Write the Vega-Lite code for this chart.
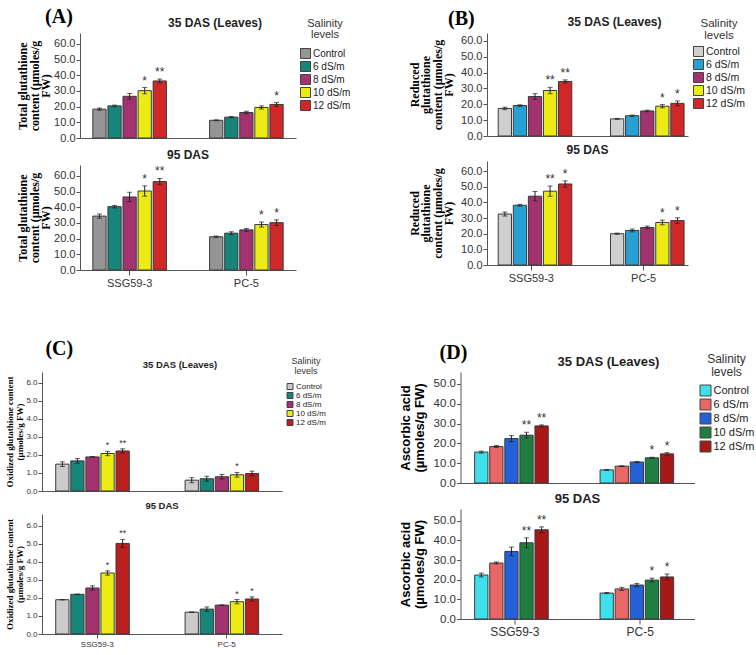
{
"$schema": "https://vega.github.io/schema/vega-lite/v6.json",
"padding": {"left": 4, "top": 7, "right": 0, "bottom": 2},
"config": {
  "view": {"stroke": null},
  "font": "Liberation Sans",
  "axis": {"grid": false, "domainColor": "#555", "tickColor": "#555", "labelColor": "#333", "tickSize": 4, "labelPadding": 1, "labelFont": "Liberation Sans", "labelOverlap": false, "labelFlush": false},
  "title": {"font": "Liberation Sans", "fontWeight": "bold", "color": "#222"},
  "legend": {"symbolType": "square", "symbolStrokeColor": "#444", "symbolStrokeWidth": 1, "titleFont": "Liberation Sans", "titleFontWeight": "normal", "titleColor": "#333", "titleAnchor": "middle", "labelFont": "Liberation Sans", "labelColor": "#222", "orient": "none"}
},
"datasets": {
"A35": [
{"g":"SSG59-3","s":"Control","v":18.4,"lo":17.7,"hi":19.1,"sig":""},
{"g":"SSG59-3","s":"6 dS/m","v":20.5,"lo":20.0,"hi":21.0,"sig":""},
{"g":"SSG59-3","s":"8 dS/m","v":26.6,"lo":24.8,"hi":28.4,"sig":""},
{"g":"SSG59-3","s":"10 dS/m","v":30.2,"lo":28.2,"hi":32.2,"sig":"*"},
{"g":"SSG59-3","s":"12 dS/m","v":36.4,"lo":35.2,"hi":37.6,"sig":"**"},
{"g":"PC-5","s":"Control","v":11.3,"lo":11.0,"hi":11.6,"sig":""},
{"g":"PC-5","s":"6 dS/m","v":13.3,"lo":12.9,"hi":13.7,"sig":""},
{"g":"PC-5","s":"8 dS/m","v":16.3,"lo":15.5,"hi":17.1,"sig":""},
{"g":"PC-5","s":"10 dS/m","v":19.5,"lo":18.5,"hi":20.5,"sig":""},
{"g":"PC-5","s":"12 dS/m","v":21.4,"lo":20.2,"hi":22.6,"sig":"*"}
],
"A95": [
{"g":"SSG59-3","s":"Control","v":34.4,"lo":33.1,"hi":35.7,"sig":""},
{"g":"SSG59-3","s":"6 dS/m","v":40.4,"lo":39.6,"hi":41.2,"sig":""},
{"g":"SSG59-3","s":"8 dS/m","v":46.6,"lo":43.6,"hi":49.6,"sig":""},
{"g":"SSG59-3","s":"10 dS/m","v":50.4,"lo":47.1,"hi":53.7,"sig":"*"},
{"g":"SSG59-3","s":"12 dS/m","v":56.4,"lo":54.4,"hi":58.4,"sig":"**"},
{"g":"PC-5","s":"Control","v":21.2,"lo":20.7,"hi":21.7,"sig":""},
{"g":"PC-5","s":"6 dS/m","v":23.5,"lo":22.6,"hi":24.4,"sig":""},
{"g":"PC-5","s":"8 dS/m","v":25.6,"lo":24.7,"hi":26.5,"sig":""},
{"g":"PC-5","s":"10 dS/m","v":29.0,"lo":27.4,"hi":30.6,"sig":"*"},
{"g":"PC-5","s":"12 dS/m","v":30.2,"lo":28.4,"hi":32.0,"sig":"*"}
],
"B35": [
{"g":"SSG59-3","s":"Control","v":17.4,"lo":16.6,"hi":18.2,"sig":""},
{"g":"SSG59-3","s":"6 dS/m","v":19.2,"lo":18.7,"hi":19.7,"sig":""},
{"g":"SSG59-3","s":"8 dS/m","v":24.9,"lo":23.1,"hi":26.7,"sig":""},
{"g":"SSG59-3","s":"10 dS/m","v":28.7,"lo":26.7,"hi":30.7,"sig":"**"},
{"g":"SSG59-3","s":"12 dS/m","v":34.4,"lo":33.4,"hi":35.4,"sig":"**"},
{"g":"PC-5","s":"Control","v":10.8,"lo":10.5,"hi":11.1,"sig":""},
{"g":"PC-5","s":"6 dS/m","v":12.8,"lo":12.4,"hi":13.2,"sig":""},
{"g":"PC-5","s":"8 dS/m","v":15.8,"lo":15.3,"hi":16.3,"sig":""},
{"g":"PC-5","s":"10 dS/m","v":18.8,"lo":17.8,"hi":19.8,"sig":"*"},
{"g":"PC-5","s":"12 dS/m","v":20.6,"lo":19.1,"hi":22.1,"sig":"*"}
],
"B95": [
{"g":"SSG59-3","s":"Control","v":32.6,"lo":31.3,"hi":33.9,"sig":""},
{"g":"SSG59-3","s":"6 dS/m","v":38.2,"lo":37.6,"hi":38.8,"sig":""},
{"g":"SSG59-3","s":"8 dS/m","v":44.0,"lo":41.0,"hi":47.0,"sig":""},
{"g":"SSG59-3","s":"10 dS/m","v":47.2,"lo":43.9,"hi":50.5,"sig":"**"},
{"g":"SSG59-3","s":"12 dS/m","v":51.8,"lo":49.8,"hi":53.8,"sig":"*"},
{"g":"PC-5","s":"Control","v":20.0,"lo":19.6,"hi":20.4,"sig":""},
{"g":"PC-5","s":"6 dS/m","v":22.1,"lo":21.2,"hi":23.0,"sig":""},
{"g":"PC-5","s":"8 dS/m","v":24.0,"lo":23.1,"hi":24.9,"sig":""},
{"g":"PC-5","s":"10 dS/m","v":27.2,"lo":25.7,"hi":28.7,"sig":"*"},
{"g":"PC-5","s":"12 dS/m","v":28.4,"lo":26.6,"hi":30.2,"sig":"*"}
],
"C35": [
{"g":"SSG59-3","s":"Control","v":1.49,"lo":1.36,"hi":1.62,"sig":""},
{"g":"SSG59-3","s":"6 dS/m","v":1.67,"lo":1.54,"hi":1.80,"sig":""},
{"g":"SSG59-3","s":"8 dS/m","v":1.89,"lo":1.87,"hi":1.91,"sig":""},
{"g":"SSG59-3","s":"10 dS/m","v":2.08,"lo":1.96,"hi":2.20,"sig":"*"},
{"g":"SSG59-3","s":"12 dS/m","v":2.22,"lo":2.10,"hi":2.34,"sig":"**"},
{"g":"PC-5","s":"Control","v":0.60,"lo":0.46,"hi":0.74,"sig":""},
{"g":"PC-5","s":"6 dS/m","v":0.68,"lo":0.54,"hi":0.82,"sig":""},
{"g":"PC-5","s":"8 dS/m","v":0.79,"lo":0.66,"hi":0.92,"sig":""},
{"g":"PC-5","s":"10 dS/m","v":0.90,"lo":0.77,"hi":1.03,"sig":"*"},
{"g":"PC-5","s":"12 dS/m","v":0.97,"lo":0.84,"hi":1.10,"sig":""}
],
"C95": [
{"g":"SSG59-3","s":"Control","v":1.90,"lo":1.89,"hi":1.91,"sig":""},
{"g":"SSG59-3","s":"6 dS/m","v":2.20,"lo":2.19,"hi":2.21,"sig":""},
{"g":"SSG59-3","s":"8 dS/m","v":2.55,"lo":2.43,"hi":2.67,"sig":""},
{"g":"SSG59-3","s":"10 dS/m","v":3.38,"lo":3.26,"hi":3.50,"sig":"*"},
{"g":"SSG59-3","s":"12 dS/m","v":5.02,"lo":4.80,"hi":5.24,"sig":"**"},
{"g":"PC-5","s":"Control","v":1.21,"lo":1.20,"hi":1.22,"sig":""},
{"g":"PC-5","s":"6 dS/m","v":1.38,"lo":1.26,"hi":1.50,"sig":""},
{"g":"PC-5","s":"8 dS/m","v":1.60,"lo":1.59,"hi":1.61,"sig":""},
{"g":"PC-5","s":"10 dS/m","v":1.79,"lo":1.67,"hi":1.91,"sig":"*"},
{"g":"PC-5","s":"12 dS/m","v":1.94,"lo":1.82,"hi":2.06,"sig":"*"}
],
"D35": [
{"g":"SSG59-3","s":"Control","v":15.6,"lo":15.1,"hi":16.1,"sig":""},
{"g":"SSG59-3","s":"6 dS/m","v":18.4,"lo":17.9,"hi":18.9,"sig":""},
{"g":"SSG59-3","s":"8 dS/m","v":22.4,"lo":20.9,"hi":23.9,"sig":""},
{"g":"SSG59-3","s":"10 dS/m","v":24.1,"lo":22.6,"hi":25.6,"sig":"**"},
{"g":"SSG59-3","s":"12 dS/m","v":28.8,"lo":28.3,"hi":29.3,"sig":"**"},
{"g":"PC-5","s":"Control","v":6.6,"lo":6.4,"hi":6.8,"sig":""},
{"g":"PC-5","s":"6 dS/m","v":8.5,"lo":8.3,"hi":8.7,"sig":""},
{"g":"PC-5","s":"8 dS/m","v":10.6,"lo":10.3,"hi":10.9,"sig":""},
{"g":"PC-5","s":"10 dS/m","v":12.7,"lo":12.4,"hi":13.0,"sig":"*"},
{"g":"PC-5","s":"12 dS/m","v":14.7,"lo":14.1,"hi":15.3,"sig":"*"}
],
"D95": [
{"g":"SSG59-3","s":"Control","v":22.4,"lo":21.4,"hi":23.4,"sig":""},
{"g":"SSG59-3","s":"6 dS/m","v":28.5,"lo":28.0,"hi":29.0,"sig":""},
{"g":"SSG59-3","s":"8 dS/m","v":34.4,"lo":32.2,"hi":36.6,"sig":""},
{"g":"SSG59-3","s":"10 dS/m","v":38.8,"lo":36.3,"hi":41.3,"sig":"**"},
{"g":"SSG59-3","s":"12 dS/m","v":45.4,"lo":43.9,"hi":46.9,"sig":"**"},
{"g":"PC-5","s":"Control","v":13.2,"lo":12.9,"hi":13.5,"sig":""},
{"g":"PC-5","s":"6 dS/m","v":15.3,"lo":14.5,"hi":16.1,"sig":""},
{"g":"PC-5","s":"8 dS/m","v":17.3,"lo":16.5,"hi":18.1,"sig":""},
{"g":"PC-5","s":"10 dS/m","v":19.8,"lo":18.8,"hi":20.8,"sig":"*"},
{"g":"PC-5","s":"12 dS/m","v":21.4,"lo":19.9,"hi":22.9,"sig":"*"}
]
},
"resolve": {"scale": {"color": "independent"}},
"columns": 1,
"spacing": 51,
"concat": [
{
"spacing": 0,
"resolve": {"scale": {"color": "independent"}},
"concat": [
{"width": 1, "height": 1, "data": {"values": []}, "mark": "point", "encoding": {}},
{
"spacing": 57,
"resolve": {"scale": {"color": "independent"}},
"concat": [
{
"title": {"text": "(A)", "anchor": "start", "dx": 40, "offset": -10, "font": "Liberation Serif", "fontSize": 20, "fontWeight": "bold", "color": "#000"},
"spacing": 6,
"resolve": {"scale": {"color": "independent"}},
"vconcat": [
{
"width": 216, "height": 105,
"data": {"name": "A35"},
"title": {"text": "35 DAS (Leaves)", "dx": 27, "offset": -12, "fontSize": 12},
"encoding": {
"x": {"field": "g", "type": "nominal", "sort": ["SSG59-3","PC-5"], "scale": {"paddingInner": 0.37, "paddingOuter": 0.11}, "axis": {"labels": false, "ticks": false, "title": null}},
"xOffset": {"field": "s", "type": "nominal", "sort": ["Control","6 dS/m","8 dS/m","10 dS/m","12 dS/m"], "scale": {"paddingInner": 0.12}}
},
"layer": [
{"mark": {"type": "bar", "stroke": "#3a3a3a", "strokeWidth": 1},
"encoding": {
"y": {"field": "v", "type": "quantitative", "scale": {"domain": [0, 67], "nice": false}, "axis": {"values": [0,10,20,30,40,50,60], "labelOverlap": false, "format": ".1f", "title": ["", "Total glutathione", "content (µmoles/g", "FW)"], "titleFont": "Liberation Serif", "titleFontSize": 12, "titleFontWeight": "bold", "titleColor": "#000", "titleLineHeight": 11.5, "titlePadding": 1, "labelFontSize": 11}},
"color": {"field": "s", "type": "nominal", "sort": ["Control","6 dS/m","8 dS/m","10 dS/m","12 dS/m"], "scale": {"range": ["#959595","#17857a","#a3336f","#ecec14","#d02828"]},
"legend": {"title": ["Salinity", "levels"], "legendX": 220, "legendY": -15, "titleFontSize": 11, "titleLineHeight": 11, "titlePadding": 8, "labelFontSize": 10, "symbolSize": 100, "rowPadding": -5, "labelOffset": 2}}
}},
{"mark": {"type": "rule", "color": "#222"}, "encoding": {"y": {"field": "lo", "type": "quantitative", "axis": {"values": [0,10,20,30,40,50,60], "labelOverlap": false, "format": ".1f", "title": ["", "Total glutathione", "content (µmoles/g", "FW)"], "titleFont": "Liberation Serif", "titleFontSize": 12, "titleFontWeight": "bold", "titleColor": "#000", "titleLineHeight": 11.5, "titlePadding": 1, "labelFontSize": 11}}, "y2": {"field": "hi"}}},
{"mark": {"type": "tick", "color": "#222", "size": 5, "thickness": 1}, "encoding": {"y": {"field": "lo", "type": "quantitative", "axis": {"values": [0,10,20,30,40,50,60], "labelOverlap": false, "format": ".1f", "title": ["", "Total glutathione", "content (µmoles/g", "FW)"], "titleFont": "Liberation Serif", "titleFontSize": 12, "titleFontWeight": "bold", "titleColor": "#000", "titleLineHeight": 11.5, "titlePadding": 1, "labelFontSize": 11}}}},
{"mark": {"type": "tick", "color": "#222", "size": 5, "thickness": 1}, "encoding": {"y": {"field": "hi", "type": "quantitative", "axis": {"values": [0,10,20,30,40,50,60], "labelOverlap": false, "format": ".1f", "title": ["", "Total glutathione", "content (µmoles/g", "FW)"], "titleFont": "Liberation Serif", "titleFontSize": 12, "titleFontWeight": "bold", "titleColor": "#000", "titleLineHeight": 11.5, "titlePadding": 1, "labelFontSize": 11}}}},
{"mark": {"type": "text", "dy": -3, "baseline": "alphabetic", "fontSize": 12, "color": "#333"}, "encoding": {"y": {"field": "hi", "type": "quantitative", "axis": {"values": [0,10,20,30,40,50,60], "labelOverlap": false, "format": ".1f", "title": ["", "Total glutathione", "content (µmoles/g", "FW)"], "titleFont": "Liberation Serif", "titleFontSize": 12, "titleFontWeight": "bold", "titleColor": "#000", "titleLineHeight": 11.5, "titlePadding": 1, "labelFontSize": 11}}, "text": {"field": "sig"}}}
]
},
{
"width": 216, "height": 105,
"data": {"name": "A95"},
"title": {"text": "95 DAS", "offset": 3, "fontSize": 12},
"encoding": {
"x": {"field": "g", "type": "nominal", "sort": ["SSG59-3","PC-5"], "scale": {"paddingInner": 0.37, "paddingOuter": 0.11}, "axis": {"labelAngle": 0, "labelFontSize": 11, "labelPadding": 2, "tickSize": 5, "title": null}},
"xOffset": {"field": "s", "type": "nominal", "sort": ["Control","6 dS/m","8 dS/m","10 dS/m","12 dS/m"], "scale": {"paddingInner": 0.12}}
},
"layer": [
{"mark": {"type": "bar", "stroke": "#3a3a3a", "strokeWidth": 1},
"encoding": {
"y": {"field": "v", "type": "quantitative", "scale": {"domain": [0, 67], "nice": false}, "axis": {"values": [0,10,20,30,40,50,60], "labelOverlap": false, "format": ".1f", "title": ["", "Total glutathione", "content (µmoles/g", "FW)"], "titleFont": "Liberation Serif", "titleFontSize": 12, "titleFontWeight": "bold", "titleColor": "#000", "titleLineHeight": 11.5, "titlePadding": 1, "labelFontSize": 11}},
"color": {"field": "s", "type": "nominal", "sort": ["Control","6 dS/m","8 dS/m","10 dS/m","12 dS/m"], "scale": {"range": ["#959595","#17857a","#a3336f","#ecec14","#d02828"]}, "legend": null}
}},
{"mark": {"type": "rule", "color": "#222"}, "encoding": {"y": {"field": "lo", "type": "quantitative", "axis": {"values": [0,10,20,30,40,50,60], "labelOverlap": false, "format": ".1f", "title": ["", "Total glutathione", "content (µmoles/g", "FW)"], "titleFont": "Liberation Serif", "titleFontSize": 12, "titleFontWeight": "bold", "titleColor": "#000", "titleLineHeight": 11.5, "titlePadding": 1, "labelFontSize": 11}}, "y2": {"field": "hi"}}},
{"mark": {"type": "tick", "color": "#222", "size": 5, "thickness": 1}, "encoding": {"y": {"field": "lo", "type": "quantitative", "axis": {"values": [0,10,20,30,40,50,60], "labelOverlap": false, "format": ".1f", "title": ["", "Total glutathione", "content (µmoles/g", "FW)"], "titleFont": "Liberation Serif", "titleFontSize": 12, "titleFontWeight": "bold", "titleColor": "#000", "titleLineHeight": 11.5, "titlePadding": 1, "labelFontSize": 11}}}},
{"mark": {"type": "tick", "color": "#222", "size": 5, "thickness": 1}, "encoding": {"y": {"field": "hi", "type": "quantitative", "axis": {"values": [0,10,20,30,40,50,60], "labelOverlap": false, "format": ".1f", "title": ["", "Total glutathione", "content (µmoles/g", "FW)"], "titleFont": "Liberation Serif", "titleFontSize": 12, "titleFontWeight": "bold", "titleColor": "#000", "titleLineHeight": 11.5, "titlePadding": 1, "labelFontSize": 11}}}},
{"mark": {"type": "text", "dy": -3, "baseline": "alphabetic", "fontSize": 12, "color": "#333"}, "encoding": {"y": {"field": "hi", "type": "quantitative", "axis": {"values": [0,10,20,30,40,50,60], "labelOverlap": false, "format": ".1f", "title": ["", "Total glutathione", "content (µmoles/g", "FW)"], "titleFont": "Liberation Serif", "titleFontSize": 12, "titleFontWeight": "bold", "titleColor": "#000", "titleLineHeight": 11.5, "titlePadding": 1, "labelFontSize": 11}}, "text": {"field": "sig"}}}
]
}
]
},
{
"title": {"text": "(B)", "anchor": "start", "dx": 40, "offset": -13, "font": "Liberation Serif", "fontSize": 20, "fontWeight": "bold", "color": "#000"},
"spacing": 3,
"resolve": {"scale": {"color": "independent"}},
"vconcat": [
{
"width": 201, "height": 103,
"data": {"name": "B35"},
"title": {"text": "35 DAS (Leaves)", "dx": 27, "offset": -11, "fontSize": 12},
"encoding": {
"x": {"field": "g", "type": "nominal", "sort": ["SSG59-3","PC-5"], "scale": {"paddingInner": 0.41, "paddingOuter": 0.1}, "axis": {"labels": false, "ticks": false, "title": null}},
"xOffset": {"field": "s", "type": "nominal", "sort": ["Control","6 dS/m","8 dS/m","10 dS/m","12 dS/m"], "scale": {"paddingInner": 0.1}}
},
"layer": [
{"mark": {"type": "bar", "stroke": "#3a3a3a", "strokeWidth": 1},
"encoding": {
"y": {"field": "v", "type": "quantitative", "scale": {"domain": [0, 65], "nice": false}, "axis": {"values": [0,10,20,30,40,50,60], "labelOverlap": false, "format": ".1f", "title": ["Reduced", "glutathione", "content (µmoles/g", "FW)"], "titleFont": "Liberation Serif", "titleFontSize": 12, "titleFontWeight": "bold", "titleColor": "#000", "titleLineHeight": 11.5, "titlePadding": 5, "labelFontSize": 11}},
"color": {"field": "s", "type": "nominal", "sort": ["Control","6 dS/m","8 dS/m","10 dS/m","12 dS/m"], "scale": {"range": ["#cfcfcf","#27a0d2","#a3336f","#ecec14","#d02828"]},
"legend": {"title": ["Salinity", "levels"], "legendX": 206, "legendY": -15, "titleFontSize": 11.5, "titleLineHeight": 11.5, "titlePadding": 5, "labelFontSize": 10.5, "symbolSize": 100, "rowPadding": -2.7, "labelOffset": 2}}
}},
{"mark": {"type": "rule", "color": "#222"}, "encoding": {"y": {"field": "lo", "type": "quantitative", "axis": {"values": [0,10,20,30,40,50,60], "labelOverlap": false, "format": ".1f", "title": ["Reduced", "glutathione", "content (µmoles/g", "FW)"], "titleFont": "Liberation Serif", "titleFontSize": 12, "titleFontWeight": "bold", "titleColor": "#000", "titleLineHeight": 11.5, "titlePadding": 5, "labelFontSize": 11}}, "y2": {"field": "hi"}}},
{"mark": {"type": "tick", "color": "#222", "size": 5, "thickness": 1}, "encoding": {"y": {"field": "lo", "type": "quantitative", "axis": {"values": [0,10,20,30,40,50,60], "labelOverlap": false, "format": ".1f", "title": ["Reduced", "glutathione", "content (µmoles/g", "FW)"], "titleFont": "Liberation Serif", "titleFontSize": 12, "titleFontWeight": "bold", "titleColor": "#000", "titleLineHeight": 11.5, "titlePadding": 5, "labelFontSize": 11}}}},
{"mark": {"type": "tick", "color": "#222", "size": 5, "thickness": 1}, "encoding": {"y": {"field": "hi", "type": "quantitative", "axis": {"values": [0,10,20,30,40,50,60], "labelOverlap": false, "format": ".1f", "title": ["Reduced", "glutathione", "content (µmoles/g", "FW)"], "titleFont": "Liberation Serif", "titleFontSize": 12, "titleFontWeight": "bold", "titleColor": "#000", "titleLineHeight": 11.5, "titlePadding": 5, "labelFontSize": 11}}}},
{"mark": {"type": "text", "dy": -3, "baseline": "alphabetic", "fontSize": 12, "color": "#333"}, "encoding": {"y": {"field": "hi", "type": "quantitative", "axis": {"values": [0,10,20,30,40,50,60], "labelOverlap": false, "format": ".1f", "title": ["Reduced", "glutathione", "content (µmoles/g", "FW)"], "titleFont": "Liberation Serif", "titleFontSize": 12, "titleFontWeight": "bold", "titleColor": "#000", "titleLineHeight": 11.5, "titlePadding": 5, "labelFontSize": 11}}, "text": {"field": "sig"}}}
]
},
{
"width": 201, "height": 104,
"data": {"name": "B95"},
"title": {"text": "95 DAS", "offset": 4, "fontSize": 12},
"encoding": {
"x": {"field": "g", "type": "nominal", "sort": ["SSG59-3","PC-5"], "scale": {"paddingInner": 0.41, "paddingOuter": 0.1}, "axis": {"labelAngle": 0, "labelFontSize": 11, "labelPadding": 2, "tickSize": 5, "title": null}},
"xOffset": {"field": "s", "type": "nominal", "sort": ["Control","6 dS/m","8 dS/m","10 dS/m","12 dS/m"], "scale": {"paddingInner": 0.1}}
},
"layer": [
{"mark": {"type": "bar", "stroke": "#3a3a3a", "strokeWidth": 1},
"encoding": {
"y": {"field": "v", "type": "quantitative", "scale": {"domain": [0, 66.5], "nice": false}, "axis": {"values": [0,10,20,30,40,50,60], "labelOverlap": false, "format": ".1f", "title": ["Reduced", "glutathione", "content (µmoles/g", "FW)"], "titleFont": "Liberation Serif", "titleFontSize": 12, "titleFontWeight": "bold", "titleColor": "#000", "titleLineHeight": 11.5, "titlePadding": 5, "labelFontSize": 11}},
"color": {"field": "s", "type": "nominal", "sort": ["Control","6 dS/m","8 dS/m","10 dS/m","12 dS/m"], "scale": {"range": ["#cfcfcf","#27a0d2","#a3336f","#ecec14","#d02828"]}, "legend": null}
}},
{"mark": {"type": "rule", "color": "#222"}, "encoding": {"y": {"field": "lo", "type": "quantitative", "axis": {"values": [0,10,20,30,40,50,60], "labelOverlap": false, "format": ".1f", "title": ["Reduced", "glutathione", "content (µmoles/g", "FW)"], "titleFont": "Liberation Serif", "titleFontSize": 12, "titleFontWeight": "bold", "titleColor": "#000", "titleLineHeight": 11.5, "titlePadding": 5, "labelFontSize": 11}}, "y2": {"field": "hi"}}},
{"mark": {"type": "tick", "color": "#222", "size": 5, "thickness": 1}, "encoding": {"y": {"field": "lo", "type": "quantitative", "axis": {"values": [0,10,20,30,40,50,60], "labelOverlap": false, "format": ".1f", "title": ["Reduced", "glutathione", "content (µmoles/g", "FW)"], "titleFont": "Liberation Serif", "titleFontSize": 12, "titleFontWeight": "bold", "titleColor": "#000", "titleLineHeight": 11.5, "titlePadding": 5, "labelFontSize": 11}}}},
{"mark": {"type": "tick", "color": "#222", "size": 5, "thickness": 1}, "encoding": {"y": {"field": "hi", "type": "quantitative", "axis": {"values": [0,10,20,30,40,50,60], "labelOverlap": false, "format": ".1f", "title": ["Reduced", "glutathione", "content (µmoles/g", "FW)"], "titleFont": "Liberation Serif", "titleFontSize": 12, "titleFontWeight": "bold", "titleColor": "#000", "titleLineHeight": 11.5, "titlePadding": 5, "labelFontSize": 11}}}},
{"mark": {"type": "text", "dy": -3, "baseline": "alphabetic", "fontSize": 12, "color": "#333"}, "encoding": {"y": {"field": "hi", "type": "quantitative", "axis": {"values": [0,10,20,30,40,50,60], "labelOverlap": false, "format": ".1f", "title": ["Reduced", "glutathione", "content (µmoles/g", "FW)"], "titleFont": "Liberation Serif", "titleFontSize": 12, "titleFontWeight": "bold", "titleColor": "#000", "titleLineHeight": 11.5, "titlePadding": 5, "labelFontSize": 11}}, "text": {"field": "sig"}}}
]
}
]
}
]
}
]
},
{
"spacing": 0,
"resolve": {"scale": {"color": "independent"}},
"concat": [
{"width": 1, "height": 1, "data": {"values": []}, "mark": "point", "encoding": {}},
{
"spacing": 73.5,
"resolve": {"scale": {"color": "independent"}},
"concat": [
{
"title": {"text": "(C)", "anchor": "start", "dx": 40, "offset": -2, "font": "Liberation Serif", "fontSize": 20, "fontWeight": "bold", "color": "#000"},
"spacing": 5,
"resolve": {"scale": {"color": "independent"}},
"vconcat": [
{
"width": 240, "height": 119,
"data": {"name": "C35"},
"title": {"text": "35 DAS (Leaves)", "dx": 18, "offset": -12, "fontSize": 9.5},
"encoding": {
"x": {"field": "g", "type": "nominal", "sort": ["SSG59-3","PC-5"], "scale": {"paddingInner": 0.357, "paddingOuter": 0.106}, "axis": {"labels": false, "ticks": false, "title": null}},
"xOffset": {"field": "s", "type": "nominal", "sort": ["Control","6 dS/m","8 dS/m","10 dS/m","12 dS/m"], "scale": {"paddingInner": 0.1}}
},
"layer": [
{"mark": {"type": "bar", "stroke": "#3a3a3a", "strokeWidth": 1},
"encoding": {
"y": {"field": "v", "type": "quantitative", "scale": {"domain": [0, 6.6], "nice": false}, "axis": {"values": [0,1,2,3,4,5,6], "labelOverlap": false, "format": ".1f", "title": ["Oxidized glutathione content", "(µmoles/g FW)"], "titleFont": "Liberation Serif", "titleFontSize": 9, "titleFontWeight": "bold", "titleColor": "#000", "titleLineHeight": 10, "titlePadding": 1.5, "labelFontSize": 8}},
"color": {"field": "s", "type": "nominal", "sort": ["Control","6 dS/m","8 dS/m","10 dS/m","12 dS/m"], "scale": {"range": ["#cbcbcb","#17857a","#a3336f","#ecec14","#bb1e1e"]},
"legend": {"title": ["Salinity", "levels"], "legendX": 244, "legendY": -15, "titleFontSize": 9, "titleLineHeight": 9.5, "titlePadding": 7, "labelFontSize": 8, "symbolSize": 36, "rowPadding": -1.1, "labelOffset": 2}}
}},
{"mark": {"type": "rule", "color": "#222"}, "encoding": {"y": {"field": "lo", "type": "quantitative", "axis": {"values": [0,1,2,3,4,5,6], "labelOverlap": false, "format": ".1f", "title": ["Oxidized glutathione content", "(µmoles/g FW)"], "titleFont": "Liberation Serif", "titleFontSize": 9, "titleFontWeight": "bold", "titleColor": "#000", "titleLineHeight": 10, "titlePadding": 1.5, "labelFontSize": 8}}, "y2": {"field": "hi"}}},
{"mark": {"type": "tick", "color": "#222", "size": 5, "thickness": 1}, "encoding": {"y": {"field": "lo", "type": "quantitative", "axis": {"values": [0,1,2,3,4,5,6], "labelOverlap": false, "format": ".1f", "title": ["Oxidized glutathione content", "(µmoles/g FW)"], "titleFont": "Liberation Serif", "titleFontSize": 9, "titleFontWeight": "bold", "titleColor": "#000", "titleLineHeight": 10, "titlePadding": 1.5, "labelFontSize": 8}}}},
{"mark": {"type": "tick", "color": "#222", "size": 5, "thickness": 1}, "encoding": {"y": {"field": "hi", "type": "quantitative", "axis": {"values": [0,1,2,3,4,5,6], "labelOverlap": false, "format": ".1f", "title": ["Oxidized glutathione content", "(µmoles/g FW)"], "titleFont": "Liberation Serif", "titleFontSize": 9, "titleFontWeight": "bold", "titleColor": "#000", "titleLineHeight": 10, "titlePadding": 1.5, "labelFontSize": 8}}}},
{"mark": {"type": "text", "dy": -3, "baseline": "alphabetic", "fontSize": 9, "color": "#333"}, "encoding": {"y": {"field": "hi", "type": "quantitative", "axis": {"values": [0,1,2,3,4,5,6], "labelOverlap": false, "format": ".1f", "title": ["Oxidized glutathione content", "(µmoles/g FW)"], "titleFont": "Liberation Serif", "titleFontSize": 9, "titleFontWeight": "bold", "titleColor": "#000", "titleLineHeight": 10, "titlePadding": 1.5, "labelFontSize": 8}}, "text": {"field": "sig"}}}
]
},
{
"width": 240, "height": 120,
"data": {"name": "C95"},
"title": {"text": "95 DAS", "offset": 4, "fontSize": 9.5},
"encoding": {
"x": {"field": "g", "type": "nominal", "sort": ["SSG59-3","PC-5"], "scale": {"paddingInner": 0.357, "paddingOuter": 0.106}, "axis": {"labelAngle": 0, "labelFontSize": 8, "labelPadding": 2, "tickSize": 4, "title": null}},
"xOffset": {"field": "s", "type": "nominal", "sort": ["Control","6 dS/m","8 dS/m","10 dS/m","12 dS/m"], "scale": {"paddingInner": 0.1}}
},
"layer": [
{"mark": {"type": "bar", "stroke": "#3a3a3a", "strokeWidth": 1},
"encoding": {
"y": {"field": "v", "type": "quantitative", "scale": {"domain": [0, 6.65], "nice": false}, "axis": {"values": [0,1,2,3,4,5,6], "labelOverlap": false, "format": ".1f", "title": ["Oxidized glutathione content", "(µmoles/g FW)"], "titleFont": "Liberation Serif", "titleFontSize": 9, "titleFontWeight": "bold", "titleColor": "#000", "titleLineHeight": 10, "titlePadding": 1.5, "labelFontSize": 8}},
"color": {"field": "s", "type": "nominal", "sort": ["Control","6 dS/m","8 dS/m","10 dS/m","12 dS/m"], "scale": {"range": ["#cbcbcb","#17857a","#a3336f","#ecec14","#bb1e1e"]}, "legend": null}
}},
{"mark": {"type": "rule", "color": "#222"}, "encoding": {"y": {"field": "lo", "type": "quantitative", "axis": {"values": [0,1,2,3,4,5,6], "labelOverlap": false, "format": ".1f", "title": ["Oxidized glutathione content", "(µmoles/g FW)"], "titleFont": "Liberation Serif", "titleFontSize": 9, "titleFontWeight": "bold", "titleColor": "#000", "titleLineHeight": 10, "titlePadding": 1.5, "labelFontSize": 8}}, "y2": {"field": "hi"}}},
{"mark": {"type": "tick", "color": "#222", "size": 5, "thickness": 1}, "encoding": {"y": {"field": "lo", "type": "quantitative", "axis": {"values": [0,1,2,3,4,5,6], "labelOverlap": false, "format": ".1f", "title": ["Oxidized glutathione content", "(µmoles/g FW)"], "titleFont": "Liberation Serif", "titleFontSize": 9, "titleFontWeight": "bold", "titleColor": "#000", "titleLineHeight": 10, "titlePadding": 1.5, "labelFontSize": 8}}}},
{"mark": {"type": "tick", "color": "#222", "size": 5, "thickness": 1}, "encoding": {"y": {"field": "hi", "type": "quantitative", "axis": {"values": [0,1,2,3,4,5,6], "labelOverlap": false, "format": ".1f", "title": ["Oxidized glutathione content", "(µmoles/g FW)"], "titleFont": "Liberation Serif", "titleFontSize": 9, "titleFontWeight": "bold", "titleColor": "#000", "titleLineHeight": 10, "titlePadding": 1.5, "labelFontSize": 8}}}},
{"mark": {"type": "text", "dy": -3, "baseline": "alphabetic", "fontSize": 9, "color": "#333"}, "encoding": {"y": {"field": "hi", "type": "quantitative", "axis": {"values": [0,1,2,3,4,5,6], "labelOverlap": false, "format": ".1f", "title": ["Oxidized glutathione content", "(µmoles/g FW)"], "titleFont": "Liberation Serif", "titleFontSize": 9, "titleFontWeight": "bold", "titleColor": "#000", "titleLineHeight": 10, "titlePadding": 1.5, "labelFontSize": 8}}, "text": {"field": "sig"}}}
]
}
]
},
{
"title": {"text": "(D)", "anchor": "start", "dx": 40, "offset": -9, "font": "Liberation Serif", "fontSize": 20, "fontWeight": "bold", "color": "#000"},
"spacing": 4,
"resolve": {"scale": {"color": "independent"}},
"vconcat": [
{
"width": 234, "height": 111,
"data": {"name": "D35"},
"title": {"text": "35 DAS (Leaves)", "dx": 31, "offset": -15, "fontSize": 13},
"encoding": {
"x": {"field": "g", "type": "nominal", "sort": ["SSG59-3","PC-5"], "scale": {"paddingInner": 0.36, "paddingOuter": 0.113}, "axis": {"labels": false, "ticks": false, "title": null}},
"xOffset": {"field": "s", "type": "nominal", "sort": ["Control","6 dS/m","8 dS/m","10 dS/m","12 dS/m"], "scale": {"paddingInner": 0.13}}
},
"layer": [
{"mark": {"type": "bar", "stroke": "#3a3a3a", "strokeWidth": 1},
"encoding": {
"y": {"field": "v", "type": "quantitative", "scale": {"domain": [0, 56], "nice": false}, "axis": {"values": [0,10,20,30,40,50], "labelOverlap": false, "format": ".1f", "title": ["Ascorbic acid", "(µmoles/g FW)"], "titleFont": "Liberation Sans", "titleFontSize": 13, "titleFontWeight": "bold", "titleColor": "#000", "titleLineHeight": 13.5, "titlePadding": 7, "labelFontSize": 11.5}},
"color": {"field": "s", "type": "nominal", "sort": ["Control","6 dS/m","8 dS/m","10 dS/m","12 dS/m"], "scale": {"range": ["#3ee0ec","#e86868","#2460d8","#1f7f40","#a81818"]},
"legend": {"title": ["Salinity", "levels"], "legendX": 239, "legendY": -18, "titleFontSize": 12, "titleLineHeight": 12.5, "titlePadding": 6, "labelFontSize": 11, "symbolSize": 121, "rowPadding": -3.2, "labelOffset": 2}}
}},
{"mark": {"type": "rule", "color": "#222"}, "encoding": {"y": {"field": "lo", "type": "quantitative", "axis": {"values": [0,10,20,30,40,50], "labelOverlap": false, "format": ".1f", "title": ["Ascorbic acid", "(µmoles/g FW)"], "titleFont": "Liberation Sans", "titleFontSize": 13, "titleFontWeight": "bold", "titleColor": "#000", "titleLineHeight": 13.5, "titlePadding": 7, "labelFontSize": 11.5}}, "y2": {"field": "hi"}}},
{"mark": {"type": "tick", "color": "#222", "size": 5, "thickness": 1}, "encoding": {"y": {"field": "lo", "type": "quantitative", "axis": {"values": [0,10,20,30,40,50], "labelOverlap": false, "format": ".1f", "title": ["Ascorbic acid", "(µmoles/g FW)"], "titleFont": "Liberation Sans", "titleFontSize": 13, "titleFontWeight": "bold", "titleColor": "#000", "titleLineHeight": 13.5, "titlePadding": 7, "labelFontSize": 11.5}}}},
{"mark": {"type": "tick", "color": "#222", "size": 5, "thickness": 1}, "encoding": {"y": {"field": "hi", "type": "quantitative", "axis": {"values": [0,10,20,30,40,50], "labelOverlap": false, "format": ".1f", "title": ["Ascorbic acid", "(µmoles/g FW)"], "titleFont": "Liberation Sans", "titleFontSize": 13, "titleFontWeight": "bold", "titleColor": "#000", "titleLineHeight": 13.5, "titlePadding": 7, "labelFontSize": 11.5}}}},
{"mark": {"type": "text", "dy": -3, "baseline": "alphabetic", "fontSize": 12, "color": "#333"}, "encoding": {"y": {"field": "hi", "type": "quantitative", "axis": {"values": [0,10,20,30,40,50], "labelOverlap": false, "format": ".1f", "title": ["Ascorbic acid", "(µmoles/g FW)"], "titleFont": "Liberation Sans", "titleFontSize": 13, "titleFontWeight": "bold", "titleColor": "#000", "titleLineHeight": 13.5, "titlePadding": 7, "labelFontSize": 11.5}}, "text": {"field": "sig"}}}
]
},
{
"width": 234, "height": 110,
"data": {"name": "D95"},
"title": {"text": "95 DAS", "offset": 3, "fontSize": 13},
"encoding": {
"x": {"field": "g", "type": "nominal", "sort": ["SSG59-3","PC-5"], "scale": {"paddingInner": 0.36, "paddingOuter": 0.113}, "axis": {"labelAngle": 0, "labelFontSize": 12, "labelPadding": 2, "tickSize": 5, "title": null}},
"xOffset": {"field": "s", "type": "nominal", "sort": ["Control","6 dS/m","8 dS/m","10 dS/m","12 dS/m"], "scale": {"paddingInner": 0.13}}
},
"layer": [
{"mark": {"type": "bar", "stroke": "#3a3a3a", "strokeWidth": 1},
"encoding": {
"y": {"field": "v", "type": "quantitative", "scale": {"domain": [0, 56], "nice": false}, "axis": {"values": [0,10,20,30,40,50], "labelOverlap": false, "format": ".1f", "title": ["Ascorbic acid", "(µmoles/g FW)"], "titleFont": "Liberation Sans", "titleFontSize": 13, "titleFontWeight": "bold", "titleColor": "#000", "titleLineHeight": 13.5, "titlePadding": 7, "labelFontSize": 11.5}},
"color": {"field": "s", "type": "nominal", "sort": ["Control","6 dS/m","8 dS/m","10 dS/m","12 dS/m"], "scale": {"range": ["#3ee0ec","#e86868","#2460d8","#1f7f40","#a81818"]}, "legend": null}
}},
{"mark": {"type": "rule", "color": "#222"}, "encoding": {"y": {"field": "lo", "type": "quantitative", "axis": {"values": [0,10,20,30,40,50], "labelOverlap": false, "format": ".1f", "title": ["Ascorbic acid", "(µmoles/g FW)"], "titleFont": "Liberation Sans", "titleFontSize": 13, "titleFontWeight": "bold", "titleColor": "#000", "titleLineHeight": 13.5, "titlePadding": 7, "labelFontSize": 11.5}}, "y2": {"field": "hi"}}},
{"mark": {"type": "tick", "color": "#222", "size": 5, "thickness": 1}, "encoding": {"y": {"field": "lo", "type": "quantitative", "axis": {"values": [0,10,20,30,40,50], "labelOverlap": false, "format": ".1f", "title": ["Ascorbic acid", "(µmoles/g FW)"], "titleFont": "Liberation Sans", "titleFontSize": 13, "titleFontWeight": "bold", "titleColor": "#000", "titleLineHeight": 13.5, "titlePadding": 7, "labelFontSize": 11.5}}}},
{"mark": {"type": "tick", "color": "#222", "size": 5, "thickness": 1}, "encoding": {"y": {"field": "hi", "type": "quantitative", "axis": {"values": [0,10,20,30,40,50], "labelOverlap": false, "format": ".1f", "title": ["Ascorbic acid", "(µmoles/g FW)"], "titleFont": "Liberation Sans", "titleFontSize": 13, "titleFontWeight": "bold", "titleColor": "#000", "titleLineHeight": 13.5, "titlePadding": 7, "labelFontSize": 11.5}}}},
{"mark": {"type": "text", "dy": -3, "baseline": "alphabetic", "fontSize": 12, "color": "#333"}, "encoding": {"y": {"field": "hi", "type": "quantitative", "axis": {"values": [0,10,20,30,40,50], "labelOverlap": false, "format": ".1f", "title": ["Ascorbic acid", "(µmoles/g FW)"], "titleFont": "Liberation Sans", "titleFontSize": 13, "titleFontWeight": "bold", "titleColor": "#000", "titleLineHeight": 13.5, "titlePadding": 7, "labelFontSize": 11.5}}, "text": {"field": "sig"}}}
]
}
]
}
]
}
]
}
]
}
